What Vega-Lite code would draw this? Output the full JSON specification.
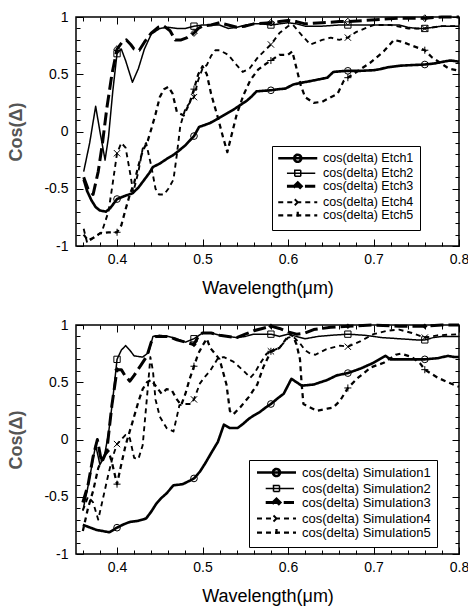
{
"$schema": "https://vega.github.io/schema/vega-lite/v6.json",
"padding": {"left": 7, "top": 9, "right": 0, "bottom": 5},
"background": "white",
"spacing": 19,
"config": {
 "font": "Liberation Sans",
 "view": {"stroke": "black", "strokeWidth": 1.5},
 "axis": {"domain": false, "grid": false, "tickColor": "black", "tickWidth": 1, "labelColor": "black", "labelFont": "Liberation Sans", "labelFontSize": 14, "titleFont": "Liberation Sans", "titleColor": "black", "labelOverlap": false, "labelFlush": false}
},
"datasets": {
"etch": [
{"s":"Etch1","x":0.361,"y":-0.42},{"s":"Etch1","x":0.365,"y":-0.52},{"s":"Etch1","x":0.37,"y":-0.6},{"s":"Etch1","x":0.375,"y":-0.66},{"s":"Etch1","x":0.38,"y":-0.69},{"s":"Etch1","x":0.387,"y":-0.7},{"s":"Etch1","x":0.392,"y":-0.67},{"s":"Etch1","x":0.4,"y":-0.59},{"s":"Etch1","x":0.41,"y":-0.56},{"s":"Etch1","x":0.418,"y":-0.54},{"s":"Etch1","x":0.425,"y":-0.49},{"s":"Etch1","x":0.432,"y":-0.42},{"s":"Etch1","x":0.438,"y":-0.36},{"s":"Etch1","x":0.442,"y":-0.31},{"s":"Etch1","x":0.45,"y":-0.28},{"s":"Etch1","x":0.458,"y":-0.24},{"s":"Etch1","x":0.465,"y":-0.21},{"s":"Etch1","x":0.472,"y":-0.17},{"s":"Etch1","x":0.48,"y":-0.12},{"s":"Etch1","x":0.485,"y":-0.08},{"s":"Etch1","x":0.49,"y":-0.04},{"s":"Etch1","x":0.496,"y":0.04},{"s":"Etch1","x":0.502,"y":0.055},{"s":"Etch1","x":0.509,"y":0.075},{"s":"Etch1","x":0.515,"y":0.1},{"s":"Etch1","x":0.522,"y":0.13},{"s":"Etch1","x":0.53,"y":0.165},{"s":"Etch1","x":0.536,"y":0.19},{"s":"Etch1","x":0.545,"y":0.235},{"s":"Etch1","x":0.552,"y":0.27},{"s":"Etch1","x":0.558,"y":0.31},{"s":"Etch1","x":0.563,"y":0.35},{"s":"Etch1","x":0.57,"y":0.355},{"s":"Etch1","x":0.58,"y":0.36},{"s":"Etch1","x":0.59,"y":0.37},{"s":"Etch1","x":0.597,"y":0.375},{"s":"Etch1","x":0.606,"y":0.41},{"s":"Etch1","x":0.615,"y":0.425},{"s":"Etch1","x":0.626,"y":0.44},{"s":"Etch1","x":0.636,"y":0.455},{"s":"Etch1","x":0.646,"y":0.47},{"s":"Etch1","x":0.653,"y":0.52},{"s":"Etch1","x":0.66,"y":0.525},{"s":"Etch1","x":0.67,"y":0.53},{"s":"Etch1","x":0.685,"y":0.53},{"s":"Etch1","x":0.7,"y":0.535},{"s":"Etch1","x":0.708,"y":0.545},{"s":"Etch1","x":0.716,"y":0.56},{"s":"Etch1","x":0.732,"y":0.575},{"s":"Etch1","x":0.745,"y":0.58},{"s":"Etch1","x":0.76,"y":0.585},{"s":"Etch1","x":0.772,"y":0.595},{"s":"Etch1","x":0.782,"y":0.61},{"s":"Etch1","x":0.79,"y":0.62},{"s":"Etch1","x":0.8,"y":0.61},
{"s":"Etch2","x":0.361,"y":-0.35},{"s":"Etch2","x":0.368,"y":-0.1},{"s":"Etch2","x":0.375,"y":0.22},{"s":"Etch2","x":0.38,"y":0.0},{"s":"Etch2","x":0.386,"y":-0.25},{"s":"Etch2","x":0.39,"y":-0.05},{"s":"Etch2","x":0.395,"y":0.35},{"s":"Etch2","x":0.4,"y":0.68},{"s":"Etch2","x":0.405,"y":0.72},{"s":"Etch2","x":0.41,"y":0.62},{"s":"Etch2","x":0.418,"y":0.43},{"s":"Etch2","x":0.425,"y":0.55},{"s":"Etch2","x":0.432,"y":0.72},{"s":"Etch2","x":0.44,"y":0.85},{"s":"Etch2","x":0.45,"y":0.9},{"s":"Etch2","x":0.46,"y":0.91},{"s":"Etch2","x":0.47,"y":0.9},{"s":"Etch2","x":0.48,"y":0.9},{"s":"Etch2","x":0.49,"y":0.92},{"s":"Etch2","x":0.5,"y":0.93},{"s":"Etch2","x":0.51,"y":0.93},{"s":"Etch2","x":0.52,"y":0.93},{"s":"Etch2","x":0.53,"y":0.9},{"s":"Etch2","x":0.54,"y":0.91},{"s":"Etch2","x":0.55,"y":0.93},{"s":"Etch2","x":0.56,"y":0.94},{"s":"Etch2","x":0.57,"y":0.94},{"s":"Etch2","x":0.58,"y":0.93},{"s":"Etch2","x":0.59,"y":0.94},{"s":"Etch2","x":0.6,"y":0.95},{"s":"Etch2","x":0.61,"y":0.94},{"s":"Etch2","x":0.62,"y":0.92},{"s":"Etch2","x":0.64,"y":0.92},{"s":"Etch2","x":0.66,"y":0.93},{"s":"Etch2","x":0.67,"y":0.93},{"s":"Etch2","x":0.69,"y":0.93},{"s":"Etch2","x":0.71,"y":0.93},{"s":"Etch2","x":0.73,"y":0.93},{"s":"Etch2","x":0.74,"y":0.91},{"s":"Etch2","x":0.75,"y":0.9},{"s":"Etch2","x":0.76,"y":0.9},{"s":"Etch2","x":0.77,"y":0.91},{"s":"Etch2","x":0.78,"y":0.92},{"s":"Etch2","x":0.8,"y":0.92},
{"s":"Etch3","x":0.361,"y":-0.4},{"s":"Etch3","x":0.366,"y":-0.5},{"s":"Etch3","x":0.372,"y":-0.55},{"s":"Etch3","x":0.378,"y":-0.35},{"s":"Etch3","x":0.383,"y":-0.1},{"s":"Etch3","x":0.388,"y":0.2},{"s":"Etch3","x":0.394,"y":0.5},{"s":"Etch3","x":0.4,"y":0.72},{"s":"Etch3","x":0.406,"y":0.78},{"s":"Etch3","x":0.411,"y":0.8},{"s":"Etch3","x":0.416,"y":0.76},{"s":"Etch3","x":0.42,"y":0.72},{"s":"Etch3","x":0.426,"y":0.71},{"s":"Etch3","x":0.432,"y":0.78},{"s":"Etch3","x":0.44,"y":0.86},{"s":"Etch3","x":0.448,"y":0.91},{"s":"Etch3","x":0.455,"y":0.92},{"s":"Etch3","x":0.462,"y":0.88},{"s":"Etch3","x":0.468,"y":0.8},{"s":"Etch3","x":0.475,"y":0.8},{"s":"Etch3","x":0.482,"y":0.82},{"s":"Etch3","x":0.49,"y":0.86},{"s":"Etch3","x":0.495,"y":0.9},{"s":"Etch3","x":0.5,"y":0.92},{"s":"Etch3","x":0.51,"y":0.93},{"s":"Etch3","x":0.52,"y":0.95},{"s":"Etch3","x":0.53,"y":0.93},{"s":"Etch3","x":0.54,"y":0.91},{"s":"Etch3","x":0.55,"y":0.92},{"s":"Etch3","x":0.56,"y":0.94},{"s":"Etch3","x":0.58,"y":0.95},{"s":"Etch3","x":0.59,"y":0.96},{"s":"Etch3","x":0.6,"y":0.97},{"s":"Etch3","x":0.61,"y":0.96},{"s":"Etch3","x":0.62,"y":0.94},{"s":"Etch3","x":0.64,"y":0.95},{"s":"Etch3","x":0.66,"y":0.96},{"s":"Etch3","x":0.67,"y":0.96},{"s":"Etch3","x":0.69,"y":0.97},{"s":"Etch3","x":0.71,"y":0.98},{"s":"Etch3","x":0.73,"y":0.99},{"s":"Etch3","x":0.76,"y":0.99},{"s":"Etch3","x":0.78,"y":1.0},{"s":"Etch3","x":0.8,"y":1.0},
{"s":"Etch4","x":0.361,"y":-0.85},{"s":"Etch4","x":0.365,"y":-0.97},{"s":"Etch4","x":0.372,"y":-0.93},{"s":"Etch4","x":0.382,"y":-0.88},{"s":"Etch4","x":0.39,"y":-0.7},{"s":"Etch4","x":0.395,"y":-0.45},{"s":"Etch4","x":0.4,"y":-0.19},{"s":"Etch4","x":0.405,"y":-0.1},{"s":"Etch4","x":0.41,"y":-0.14},{"s":"Etch4","x":0.415,"y":-0.35},{"s":"Etch4","x":0.419,"y":-0.53},{"s":"Etch4","x":0.425,"y":-0.35},{"s":"Etch4","x":0.43,"y":-0.15},{"s":"Etch4","x":0.434,"y":-0.1},{"s":"Etch4","x":0.44,"y":-0.3},{"s":"Etch4","x":0.445,"y":-0.5},{"s":"Etch4","x":0.449,"y":-0.55},{"s":"Etch4","x":0.455,"y":-0.55},{"s":"Etch4","x":0.46,"y":-0.5},{"s":"Etch4","x":0.466,"y":-0.42},{"s":"Etch4","x":0.47,"y":-0.2},{"s":"Etch4","x":0.474,"y":0.05},{"s":"Etch4","x":0.48,"y":0.2},{"s":"Etch4","x":0.49,"y":0.3},{"s":"Etch4","x":0.495,"y":0.45},{"s":"Etch4","x":0.5,"y":0.55},{"s":"Etch4","x":0.505,"y":0.58},{"s":"Etch4","x":0.51,"y":0.66},{"s":"Etch4","x":0.515,"y":0.71},{"s":"Etch4","x":0.52,"y":0.71},{"s":"Etch4","x":0.53,"y":0.67},{"s":"Etch4","x":0.54,"y":0.58},{"s":"Etch4","x":0.547,"y":0.52},{"s":"Etch4","x":0.555,"y":0.55},{"s":"Etch4","x":0.565,"y":0.65},{"s":"Etch4","x":0.58,"y":0.76},{"s":"Etch4","x":0.59,"y":0.86},{"s":"Etch4","x":0.6,"y":0.92},{"s":"Etch4","x":0.606,"y":0.93},{"s":"Etch4","x":0.615,"y":0.85},{"s":"Etch4","x":0.626,"y":0.76},{"s":"Etch4","x":0.64,"y":0.8},{"s":"Etch4","x":0.65,"y":0.82},{"s":"Etch4","x":0.66,"y":0.8},{"s":"Etch4","x":0.67,"y":0.82},{"s":"Etch4","x":0.68,"y":0.87},{"s":"Etch4","x":0.69,"y":0.9},{"s":"Etch4","x":0.7,"y":0.93},{"s":"Etch4","x":0.72,"y":0.93},{"s":"Etch4","x":0.74,"y":0.9},{"s":"Etch4","x":0.76,"y":0.9},{"s":"Etch4","x":0.78,"y":0.92},{"s":"Etch4","x":0.8,"y":0.92},
{"s":"Etch5","x":0.361,"y":-0.9},{"s":"Etch5","x":0.366,"y":-0.95},{"s":"Etch5","x":0.372,"y":-0.93},{"s":"Etch5","x":0.38,"y":-0.89},{"s":"Etch5","x":0.39,"y":-0.88},{"s":"Etch5","x":0.4,"y":-0.88},{"s":"Etch5","x":0.405,"y":-0.82},{"s":"Etch5","x":0.41,"y":-0.68},{"s":"Etch5","x":0.415,"y":-0.55},{"s":"Etch5","x":0.42,"y":-0.45},{"s":"Etch5","x":0.425,"y":-0.3},{"s":"Etch5","x":0.43,"y":-0.17},{"s":"Etch5","x":0.436,"y":-0.08},{"s":"Etch5","x":0.44,"y":0.02},{"s":"Etch5","x":0.445,"y":0.15},{"s":"Etch5","x":0.45,"y":0.3},{"s":"Etch5","x":0.455,"y":0.37},{"s":"Etch5","x":0.46,"y":0.39},{"s":"Etch5","x":0.465,"y":0.33},{"s":"Etch5","x":0.47,"y":0.17},{"s":"Etch5","x":0.478,"y":0.14},{"s":"Etch5","x":0.485,"y":0.25},{"s":"Etch5","x":0.49,"y":0.37},{"s":"Etch5","x":0.495,"y":0.5},{"s":"Etch5","x":0.5,"y":0.57},{"s":"Etch5","x":0.505,"y":0.5},{"s":"Etch5","x":0.51,"y":0.33},{"s":"Etch5","x":0.518,"y":0.12},{"s":"Etch5","x":0.524,"y":-0.05},{"s":"Etch5","x":0.529,"y":-0.18},{"s":"Etch5","x":0.535,"y":0.0},{"s":"Etch5","x":0.54,"y":0.15},{"s":"Etch5","x":0.548,"y":0.32},{"s":"Etch5","x":0.556,"y":0.45},{"s":"Etch5","x":0.565,"y":0.54},{"s":"Etch5","x":0.572,"y":0.58},{"s":"Etch5","x":0.58,"y":0.62},{"s":"Etch5","x":0.59,"y":0.67},{"s":"Etch5","x":0.6,"y":0.67},{"s":"Etch5","x":0.605,"y":0.7},{"s":"Etch5","x":0.61,"y":0.55},{"s":"Etch5","x":0.615,"y":0.4},{"s":"Etch5","x":0.62,"y":0.3},{"s":"Etch5","x":0.63,"y":0.25},{"s":"Etch5","x":0.64,"y":0.26},{"s":"Etch5","x":0.65,"y":0.3},{"s":"Etch5","x":0.658,"y":0.33},{"s":"Etch5","x":0.665,"y":0.44},{"s":"Etch5","x":0.67,"y":0.47},{"s":"Etch5","x":0.68,"y":0.52},{"s":"Etch5","x":0.696,"y":0.6},{"s":"Etch5","x":0.712,"y":0.7},{"s":"Etch5","x":0.724,"y":0.8},{"s":"Etch5","x":0.735,"y":0.78},{"s":"Etch5","x":0.745,"y":0.75},{"s":"Etch5","x":0.76,"y":0.71},{"s":"Etch5","x":0.768,"y":0.65},{"s":"Etch5","x":0.778,"y":0.6},{"s":"Etch5","x":0.788,"y":0.55},{"s":"Etch5","x":0.8,"y":0.53}
],
"etchM": [
{"s":"Etch1","x":0.4,"y":-0.59},{"s":"Etch1","x":0.49,"y":-0.04},{"s":"Etch1","x":0.58,"y":0.36},{"s":"Etch1","x":0.67,"y":0.53},{"s":"Etch1","x":0.76,"y":0.585},
{"s":"Etch2","x":0.4,"y":0.68},{"s":"Etch2","x":0.49,"y":0.92},{"s":"Etch2","x":0.58,"y":0.93},{"s":"Etch2","x":0.67,"y":0.93},{"s":"Etch2","x":0.76,"y":0.9},
{"s":"Etch3","x":0.4,"y":0.72},{"s":"Etch3","x":0.49,"y":0.86},{"s":"Etch3","x":0.58,"y":0.95},{"s":"Etch3","x":0.67,"y":0.96},{"s":"Etch3","x":0.76,"y":0.99},
{"s":"Etch4","x":0.4,"y":-0.19},{"s":"Etch4","x":0.49,"y":0.3},{"s":"Etch4","x":0.58,"y":0.76},{"s":"Etch4","x":0.67,"y":0.82},{"s":"Etch4","x":0.76,"y":0.9},
{"s":"Etch5","x":0.4,"y":-0.88},{"s":"Etch5","x":0.49,"y":0.37},{"s":"Etch5","x":0.58,"y":0.62},{"s":"Etch5","x":0.67,"y":0.47},{"s":"Etch5","x":0.76,"y":0.71}
],
"sim": [
{"s":"Simulation1","x":0.36,"y":-0.745},{"s":"Simulation1","x":0.376,"y":-0.79},{"s":"Simulation1","x":0.391,"y":-0.81},{"s":"Simulation1","x":0.4,"y":-0.77},{"s":"Simulation1","x":0.408,"y":-0.74},{"s":"Simulation1","x":0.415,"y":-0.72},{"s":"Simulation1","x":0.425,"y":-0.71},{"s":"Simulation1","x":0.434,"y":-0.69},{"s":"Simulation1","x":0.44,"y":-0.63},{"s":"Simulation1","x":0.446,"y":-0.56},{"s":"Simulation1","x":0.452,"y":-0.51},{"s":"Simulation1","x":0.458,"y":-0.47},{"s":"Simulation1","x":0.466,"y":-0.4},{"s":"Simulation1","x":0.472,"y":-0.395},{"s":"Simulation1","x":0.477,"y":-0.39},{"s":"Simulation1","x":0.485,"y":-0.36},{"s":"Simulation1","x":0.49,"y":-0.34},{"s":"Simulation1","x":0.497,"y":-0.28},{"s":"Simulation1","x":0.503,"y":-0.21},{"s":"Simulation1","x":0.51,"y":-0.12},{"s":"Simulation1","x":0.518,"y":-0.02},{"s":"Simulation1","x":0.525,"y":0.13},{"s":"Simulation1","x":0.532,"y":0.1},{"s":"Simulation1","x":0.541,"y":0.1},{"s":"Simulation1","x":0.548,"y":0.14},{"s":"Simulation1","x":0.554,"y":0.18},{"s":"Simulation1","x":0.56,"y":0.21},{"s":"Simulation1","x":0.567,"y":0.24},{"s":"Simulation1","x":0.574,"y":0.28},{"s":"Simulation1","x":0.58,"y":0.31},{"s":"Simulation1","x":0.588,"y":0.36},{"s":"Simulation1","x":0.595,"y":0.4},{"s":"Simulation1","x":0.604,"y":0.53},{"s":"Simulation1","x":0.61,"y":0.5},{"s":"Simulation1","x":0.616,"y":0.47},{"s":"Simulation1","x":0.63,"y":0.48},{"s":"Simulation1","x":0.646,"y":0.52},{"s":"Simulation1","x":0.657,"y":0.56},{"s":"Simulation1","x":0.67,"y":0.58},{"s":"Simulation1","x":0.685,"y":0.62},{"s":"Simulation1","x":0.7,"y":0.67},{"s":"Simulation1","x":0.714,"y":0.73},{"s":"Simulation1","x":0.72,"y":0.7},{"s":"Simulation1","x":0.73,"y":0.7},{"s":"Simulation1","x":0.745,"y":0.7},{"s":"Simulation1","x":0.76,"y":0.7},{"s":"Simulation1","x":0.775,"y":0.71},{"s":"Simulation1","x":0.787,"y":0.73},{"s":"Simulation1","x":0.795,"y":0.72},{"s":"Simulation1","x":0.8,"y":0.72},
{"s":"Simulation2","x":0.36,"y":-0.62},{"s":"Simulation2","x":0.365,"y":-0.45},{"s":"Simulation2","x":0.37,"y":-0.25},{"s":"Simulation2","x":0.375,"y":-0.05},{"s":"Simulation2","x":0.38,"y":-0.22},{"s":"Simulation2","x":0.385,"y":-0.15},{"s":"Simulation2","x":0.39,"y":0.05},{"s":"Simulation2","x":0.395,"y":0.35},{"s":"Simulation2","x":0.4,"y":0.7},{"s":"Simulation2","x":0.405,"y":0.78},{"s":"Simulation2","x":0.41,"y":0.82},{"s":"Simulation2","x":0.415,"y":0.78},{"s":"Simulation2","x":0.42,"y":0.73},{"s":"Simulation2","x":0.43,"y":0.72},{"s":"Simulation2","x":0.437,"y":0.76},{"s":"Simulation2","x":0.442,"y":0.9},{"s":"Simulation2","x":0.45,"y":0.91},{"s":"Simulation2","x":0.46,"y":0.9},{"s":"Simulation2","x":0.47,"y":0.88},{"s":"Simulation2","x":0.48,"y":0.85},{"s":"Simulation2","x":0.49,"y":0.88},{"s":"Simulation2","x":0.5,"y":0.93},{"s":"Simulation2","x":0.51,"y":0.93},{"s":"Simulation2","x":0.52,"y":0.91},{"s":"Simulation2","x":0.53,"y":0.9},{"s":"Simulation2","x":0.54,"y":0.89},{"s":"Simulation2","x":0.55,"y":0.9},{"s":"Simulation2","x":0.56,"y":0.92},{"s":"Simulation2","x":0.58,"y":0.92},{"s":"Simulation2","x":0.59,"y":0.9},{"s":"Simulation2","x":0.6,"y":0.92},{"s":"Simulation2","x":0.61,"y":0.9},{"s":"Simulation2","x":0.62,"y":0.88},{"s":"Simulation2","x":0.635,"y":0.9},{"s":"Simulation2","x":0.65,"y":0.91},{"s":"Simulation2","x":0.67,"y":0.92},{"s":"Simulation2","x":0.69,"y":0.91},{"s":"Simulation2","x":0.71,"y":0.89},{"s":"Simulation2","x":0.73,"y":0.88},{"s":"Simulation2","x":0.75,"y":0.87},{"s":"Simulation2","x":0.76,"y":0.87},{"s":"Simulation2","x":0.77,"y":0.89},{"s":"Simulation2","x":0.78,"y":0.9},{"s":"Simulation2","x":0.8,"y":0.9},
{"s":"Simulation3","x":0.36,"y":-0.55},{"s":"Simulation3","x":0.366,"y":-0.4},{"s":"Simulation3","x":0.372,"y":-0.15},{"s":"Simulation3","x":0.377,"y":0.0},{"s":"Simulation3","x":0.382,"y":-0.2},{"s":"Simulation3","x":0.388,"y":-0.1},{"s":"Simulation3","x":0.394,"y":0.3},{"s":"Simulation3","x":0.4,"y":0.61},{"s":"Simulation3","x":0.405,"y":0.61},{"s":"Simulation3","x":0.41,"y":0.55},{"s":"Simulation3","x":0.415,"y":0.51},{"s":"Simulation3","x":0.42,"y":0.56},{"s":"Simulation3","x":0.428,"y":0.65},{"s":"Simulation3","x":0.435,"y":0.73},{"s":"Simulation3","x":0.44,"y":0.85},{"s":"Simulation3","x":0.445,"y":0.9},{"s":"Simulation3","x":0.46,"y":0.9},{"s":"Simulation3","x":0.47,"y":0.87},{"s":"Simulation3","x":0.48,"y":0.85},{"s":"Simulation3","x":0.49,"y":0.83},{"s":"Simulation3","x":0.495,"y":0.9},{"s":"Simulation3","x":0.5,"y":0.93},{"s":"Simulation3","x":0.51,"y":0.93},{"s":"Simulation3","x":0.52,"y":0.91},{"s":"Simulation3","x":0.53,"y":0.9},{"s":"Simulation3","x":0.54,"y":0.89},{"s":"Simulation3","x":0.55,"y":0.92},{"s":"Simulation3","x":0.56,"y":0.95},{"s":"Simulation3","x":0.57,"y":0.97},{"s":"Simulation3","x":0.58,"y":0.99},{"s":"Simulation3","x":0.59,"y":0.97},{"s":"Simulation3","x":0.6,"y":0.94},{"s":"Simulation3","x":0.61,"y":0.92},{"s":"Simulation3","x":0.62,"y":0.93},{"s":"Simulation3","x":0.63,"y":0.96},{"s":"Simulation3","x":0.65,"y":0.98},{"s":"Simulation3","x":0.67,"y":0.99},{"s":"Simulation3","x":0.7,"y":1.0},{"s":"Simulation3","x":0.73,"y":0.99},{"s":"Simulation3","x":0.76,"y":0.99},{"s":"Simulation3","x":0.78,"y":1.0},{"s":"Simulation3","x":0.8,"y":1.0},
{"s":"Simulation4","x":0.36,"y":-0.62},{"s":"Simulation4","x":0.366,"y":-0.5},{"s":"Simulation4","x":0.372,"y":-0.55},{"s":"Simulation4","x":0.378,"y":-0.7},{"s":"Simulation4","x":0.384,"y":-0.5},{"s":"Simulation4","x":0.39,"y":-0.3},{"s":"Simulation4","x":0.395,"y":-0.15},{"s":"Simulation4","x":0.4,"y":-0.04},{"s":"Simulation4","x":0.405,"y":0.0},{"s":"Simulation4","x":0.41,"y":0.04},{"s":"Simulation4","x":0.415,"y":0.01},{"s":"Simulation4","x":0.42,"y":-0.16},{"s":"Simulation4","x":0.425,"y":-0.17},{"s":"Simulation4","x":0.43,"y":-0.05},{"s":"Simulation4","x":0.433,"y":0.2},{"s":"Simulation4","x":0.436,"y":0.45},{"s":"Simulation4","x":0.439,"y":0.72},{"s":"Simulation4","x":0.442,"y":0.6},{"s":"Simulation4","x":0.445,"y":0.35},{"s":"Simulation4","x":0.45,"y":0.2},{"s":"Simulation4","x":0.458,"y":0.1},{"s":"Simulation4","x":0.466,"y":0.07},{"s":"Simulation4","x":0.47,"y":0.2},{"s":"Simulation4","x":0.473,"y":0.3},{"s":"Simulation4","x":0.48,"y":0.31},{"s":"Simulation4","x":0.486,"y":0.31},{"s":"Simulation4","x":0.49,"y":0.35},{"s":"Simulation4","x":0.497,"y":0.49},{"s":"Simulation4","x":0.503,"y":0.55},{"s":"Simulation4","x":0.509,"y":0.6},{"s":"Simulation4","x":0.518,"y":0.71},{"s":"Simulation4","x":0.525,"y":0.72},{"s":"Simulation4","x":0.536,"y":0.68},{"s":"Simulation4","x":0.548,"y":0.6},{"s":"Simulation4","x":0.556,"y":0.54},{"s":"Simulation4","x":0.561,"y":0.58},{"s":"Simulation4","x":0.567,"y":0.66},{"s":"Simulation4","x":0.575,"y":0.75},{"s":"Simulation4","x":0.58,"y":0.77},{"s":"Simulation4","x":0.59,"y":0.8},{"s":"Simulation4","x":0.6,"y":0.89},{"s":"Simulation4","x":0.606,"y":0.9},{"s":"Simulation4","x":0.614,"y":0.84},{"s":"Simulation4","x":0.62,"y":0.78},{"s":"Simulation4","x":0.626,"y":0.75},{"s":"Simulation4","x":0.632,"y":0.74},{"s":"Simulation4","x":0.645,"y":0.79},{"s":"Simulation4","x":0.661,"y":0.82},{"s":"Simulation4","x":0.67,"y":0.81},{"s":"Simulation4","x":0.685,"y":0.86},{"s":"Simulation4","x":0.7,"y":0.92},{"s":"Simulation4","x":0.716,"y":0.95},{"s":"Simulation4","x":0.73,"y":0.96},{"s":"Simulation4","x":0.745,"y":0.93},{"s":"Simulation4","x":0.76,"y":0.89},{"s":"Simulation4","x":0.775,"y":0.91},{"s":"Simulation4","x":0.8,"y":0.92},
{"s":"Simulation5","x":0.36,"y":-0.8},{"s":"Simulation5","x":0.366,"y":-0.6},{"s":"Simulation5","x":0.372,"y":-0.45},{"s":"Simulation5","x":0.378,"y":-0.25},{"s":"Simulation5","x":0.384,"y":-0.15},{"s":"Simulation5","x":0.39,"y":-0.1},{"s":"Simulation5","x":0.394,"y":-0.2},{"s":"Simulation5","x":0.4,"y":-0.39},{"s":"Simulation5","x":0.404,"y":-0.25},{"s":"Simulation5","x":0.41,"y":-0.05},{"s":"Simulation5","x":0.418,"y":0.15},{"s":"Simulation5","x":0.425,"y":0.33},{"s":"Simulation5","x":0.43,"y":0.44},{"s":"Simulation5","x":0.435,"y":0.5},{"s":"Simulation5","x":0.44,"y":0.52},{"s":"Simulation5","x":0.447,"y":0.45},{"s":"Simulation5","x":0.452,"y":0.4},{"s":"Simulation5","x":0.458,"y":0.44},{"s":"Simulation5","x":0.464,"y":0.43},{"s":"Simulation5","x":0.47,"y":0.35},{"s":"Simulation5","x":0.475,"y":0.3},{"s":"Simulation5","x":0.48,"y":0.4},{"s":"Simulation5","x":0.485,"y":0.53},{"s":"Simulation5","x":0.49,"y":0.64},{"s":"Simulation5","x":0.495,"y":0.75},{"s":"Simulation5","x":0.5,"y":0.82},{"s":"Simulation5","x":0.505,"y":0.88},{"s":"Simulation5","x":0.509,"y":0.8},{"s":"Simulation5","x":0.52,"y":0.7},{"s":"Simulation5","x":0.528,"y":0.48},{"s":"Simulation5","x":0.532,"y":0.25},{"s":"Simulation5","x":0.536,"y":0.22},{"s":"Simulation5","x":0.544,"y":0.28},{"s":"Simulation5","x":0.554,"y":0.37},{"s":"Simulation5","x":0.564,"y":0.48},{"s":"Simulation5","x":0.571,"y":0.63},{"s":"Simulation5","x":0.58,"y":0.77},{"s":"Simulation5","x":0.59,"y":0.8},{"s":"Simulation5","x":0.602,"y":0.92},{"s":"Simulation5","x":0.606,"y":0.9},{"s":"Simulation5","x":0.61,"y":0.83},{"s":"Simulation5","x":0.614,"y":0.7},{"s":"Simulation5","x":0.616,"y":0.48},{"s":"Simulation5","x":0.618,"y":0.31},{"s":"Simulation5","x":0.626,"y":0.28},{"s":"Simulation5","x":0.634,"y":0.25},{"s":"Simulation5","x":0.646,"y":0.27},{"s":"Simulation5","x":0.653,"y":0.28},{"s":"Simulation5","x":0.661,"y":0.34},{"s":"Simulation5","x":0.67,"y":0.45},{"s":"Simulation5","x":0.682,"y":0.54},{"s":"Simulation5","x":0.697,"y":0.63},{"s":"Simulation5","x":0.712,"y":0.67},{"s":"Simulation5","x":0.726,"y":0.74},{"s":"Simulation5","x":0.732,"y":0.75},{"s":"Simulation5","x":0.745,"y":0.72},{"s":"Simulation5","x":0.755,"y":0.66},{"s":"Simulation5","x":0.76,"y":0.61},{"s":"Simulation5","x":0.775,"y":0.54},{"s":"Simulation5","x":0.787,"y":0.5},{"s":"Simulation5","x":0.8,"y":0.46}
],
"simM": [
{"s":"Simulation1","x":0.4,"y":-0.77},{"s":"Simulation1","x":0.49,"y":-0.34},{"s":"Simulation1","x":0.58,"y":0.31},{"s":"Simulation1","x":0.67,"y":0.58},{"s":"Simulation1","x":0.76,"y":0.7},
{"s":"Simulation2","x":0.4,"y":0.7},{"s":"Simulation2","x":0.49,"y":0.88},{"s":"Simulation2","x":0.58,"y":0.92},{"s":"Simulation2","x":0.67,"y":0.92},{"s":"Simulation2","x":0.76,"y":0.87},
{"s":"Simulation3","x":0.4,"y":0.61},{"s":"Simulation3","x":0.49,"y":0.83},{"s":"Simulation3","x":0.58,"y":0.99},{"s":"Simulation3","x":0.67,"y":0.99},{"s":"Simulation3","x":0.76,"y":0.99},
{"s":"Simulation4","x":0.4,"y":-0.04},{"s":"Simulation4","x":0.49,"y":0.35},{"s":"Simulation4","x":0.58,"y":0.77},{"s":"Simulation4","x":0.67,"y":0.81},{"s":"Simulation4","x":0.76,"y":0.89},
{"s":"Simulation5","x":0.4,"y":-0.39},{"s":"Simulation5","x":0.49,"y":0.64},{"s":"Simulation5","x":0.58,"y":0.77},{"s":"Simulation5","x":0.67,"y":0.45},{"s":"Simulation5","x":0.76,"y":0.61}
]
},
"resolve": {"scale": {"strokeDash": "independent", "shape": "independent", "strokeWidth": "independent"}, "legend": {"strokeDash": "independent", "shape": "independent", "strokeWidth": "independent"}},
"vconcat": [
{
"width": 383, "height": 229,
"resolve": {"axis": {"x": "independent", "y": "independent"}},
"layer": [
{
"data": {"name": "etch"},
"mark": {"type": "line", "color": "black", "strokeJoin": "round"},
"encoding": {
"x": {"field": "x", "type": "quantitative", "scale": {"domain": [0.352, 0.8], "nice": false, "zero": false},
 "axis": {"values": [0.36,0.38,0.4,0.42,0.44,0.46,0.48,0.5,0.52,0.54,0.56,0.58,0.6,0.62,0.64,0.66,0.68,0.7,0.72,0.74,0.76,0.78,0.8],
  "labelExpr": "abs(datum.value*10 - round(datum.value*10)) < 0.000001 ? '' + datum.value : ''",
  "tickSize": {"condition": {"test": "abs(datum.value*10 - round(datum.value*10)) < 0.000001", "value": -7}, "value": -4},
  "labelPadding": 13, "title": "Wavelength(μm)", "titleFontSize": 18, "titleFontWeight": "normal", "titlePadding": 10}},
"y": {"field": "y", "type": "quantitative", "scale": {"domain": [-1, 1], "nice": false},
 "axis": {"values": [-1,-0.9,-0.8,-0.7,-0.6,-0.5,-0.4,-0.3,-0.2,-0.1,0,0.1,0.2,0.3,0.4,0.5,0.6,0.7,0.8,0.9,1],
  "labelExpr": "abs(datum.value*2 - round(datum.value*2)) < 0.000001 ? '' + datum.value : ''",
  "tickSize": {"condition": {"test": "abs(datum.value*2 - round(datum.value*2)) < 0.000001", "value": -7}, "value": -4},
  "labelPadding": 15, "title": "Cos(Δ)", "titleFontSize": 18, "titleFontWeight": "bold", "titleColor": "#555555", "titlePadding": 18}},
"strokeWidth": {"field": "s", "type": "nominal", "scale": {"type": "point", "padding": 0, "domain": ["Etch2","Etch4","Etch5","Etch1","Etch3"], "range": [1.5, 3]}},
"strokeDash": {"field": "s", "type": "nominal", "scale": {"domain": ["Etch2","Etch4","Etch5","Etch1","Etch3"], "range": [[1,0],[5,4],[5,4],[1,0],[13,5]]}}
}
},
{
"data": {"name": "etchM"},
"mark": {"type": "point", "filled": false, "color": "black", "size": 16, "opacity": 0},
"encoding": {
"x": {"field": "x", "type": "quantitative", "axis": {"orient": "top", "values": [0.36,0.38,0.4,0.42,0.44,0.46,0.48,0.5,0.52,0.54,0.56,0.58,0.6,0.62,0.64,0.66,0.68,0.7,0.72,0.74,0.76,0.78,0.8], "labels": false, "title": null,
 "tickSize": {"condition": {"test": "abs(datum.value*10 - round(datum.value*10)) < 0.000001", "value": -7}, "value": -4}}},
"y": {"field": "y", "type": "quantitative", "axis": {"orient": "right", "values": [-1,-0.9,-0.8,-0.7,-0.6,-0.5,-0.4,-0.3,-0.2,-0.1,0,0.1,0.2,0.3,0.4,0.5,0.6,0.7,0.8,0.9,1], "labels": false, "title": null,
 "tickSize": {"condition": {"test": "abs(datum.value*2 - round(datum.value*2)) < 0.000001", "value": -7}, "value": -4}}},
"strokeWidth": {"field": "s", "type": "nominal"},
"strokeDash": {"field": "s", "type": "nominal"},
"shape": {"field": "s", "type": "nominal", "scale": {"domain": ["Etch2","Etch4","Etch5","Etch1","Etch3"],
  "range": ["M-5.4,0L8.75,0M-1.5,-1.5L1.5,-1.5L1.5,1.5L-1.5,1.5Z", "M-9.75,0L9.75,0M-1.5,-1.5L1.5,1.5M-1.5,1.5L1.5,-1.5", "M-9.75,0L9.75,0M0,-1.75L0,1.75", "M-9.75,0L9.75,0M-1.75,0A1.75,1.75,0,1,0,1.75,0A1.75,1.75,0,1,0,-1.75,0", "M-5.4,0L8.75,0M-1.75,0L0,-1.75L1.75,0L0,1.75Z"]},
 "legend": {"orient": "none", "legendX": 196, "legendY": 129, "title": null, "values": ["Etch1","Etch2","Etch3","Etch4","Etch5"],
  "labelExpr": "'cos(delta) ' + datum.label", "labelFont": "Liberation Sans", "labelFontSize": 12.5, "labelColor": "black",
  "symbolSize": 16, "symbolOpacity": 1, "symbolStrokeColor": "black", "symbolFillColor": "transparent", "symbolOffset": 13.5, "labelOffset": 19, "padding": 6, "rowPadding": -6,
  "strokeColor": "black", "fillColor": "white"}}
}
},
{"data": {"name": "etchM"}, "transform": [{"filter": "datum.s == 'Etch1'"}], "mark": {"type": "point", "shape": "circle", "filled": false, "color": "black", "strokeWidth": 1, "size": 45, "opacity": 1},
 "encoding": {"x": {"field": "x", "type": "quantitative", "axis": null}, "y": {"field": "y", "type": "quantitative", "axis": null}}},
{"data": {"name": "etchM"}, "transform": [{"filter": "datum.s == 'Etch2'"}], "mark": {"type": "point", "shape": "square", "filled": false, "color": "black", "strokeWidth": 1, "size": 40, "opacity": 1},
 "encoding": {"x": {"field": "x", "type": "quantitative", "axis": null}, "y": {"field": "y", "type": "quantitative", "axis": null}}},
{"data": {"name": "etchM"}, "transform": [{"filter": "datum.s == 'Etch3'"}], "mark": {"type": "point", "shape": "diamond", "filled": false, "color": "black", "strokeWidth": 1, "size": 45, "opacity": 1},
 "encoding": {"x": {"field": "x", "type": "quantitative", "axis": null}, "y": {"field": "y", "type": "quantitative", "axis": null}}},
{"data": {"name": "etchM"}, "transform": [{"filter": "datum.s == 'Etch4'"}], "mark": {"type": "point", "shape": "M-1,-1L1,1M-1,1L1,-1", "filled": false, "color": "black", "strokeWidth": 1, "size": 40, "opacity": 1},
 "encoding": {"x": {"field": "x", "type": "quantitative", "axis": null}, "y": {"field": "y", "type": "quantitative", "axis": null}}},
{"data": {"name": "etchM"}, "transform": [{"filter": "datum.s == 'Etch5'"}], "mark": {"type": "point", "shape": "M-1,0L1,0M0,-1L0,1", "filled": false, "color": "black", "strokeWidth": 1, "size": 50, "opacity": 1},
 "encoding": {"x": {"field": "x", "type": "quantitative", "axis": null}, "y": {"field": "y", "type": "quantitative", "axis": null}}}
]
},
{
"width": 383, "height": 229,
"resolve": {"axis": {"x": "independent", "y": "independent"}},
"layer": [
{
"data": {"name": "sim"},
"mark": {"type": "line", "color": "black", "strokeJoin": "round"},
"encoding": {
"x": {"field": "x", "type": "quantitative", "scale": {"domain": [0.352, 0.8], "nice": false, "zero": false},
 "axis": {"values": [0.36,0.38,0.4,0.42,0.44,0.46,0.48,0.5,0.52,0.54,0.56,0.58,0.6,0.62,0.64,0.66,0.68,0.7,0.72,0.74,0.76,0.78,0.8],
  "labelExpr": "abs(datum.value*10 - round(datum.value*10)) < 0.000001 ? '' + datum.value : ''",
  "tickSize": {"condition": {"test": "abs(datum.value*10 - round(datum.value*10)) < 0.000001", "value": -7}, "value": -4},
  "labelPadding": 13, "title": "Wavelength(μm)", "titleFontSize": 18, "titleFontWeight": "normal", "titlePadding": 10}},
"y": {"field": "y", "type": "quantitative", "scale": {"domain": [-1, 1], "nice": false},
 "axis": {"values": [-1,-0.9,-0.8,-0.7,-0.6,-0.5,-0.4,-0.3,-0.2,-0.1,0,0.1,0.2,0.3,0.4,0.5,0.6,0.7,0.8,0.9,1],
  "labelExpr": "abs(datum.value*2 - round(datum.value*2)) < 0.000001 ? '' + datum.value : ''",
  "tickSize": {"condition": {"test": "abs(datum.value*2 - round(datum.value*2)) < 0.000001", "value": -7}, "value": -4},
  "labelPadding": 15, "title": "Cos(Δ)", "titleFontSize": 18, "titleFontWeight": "bold", "titleColor": "#555555", "titlePadding": 18}},
"strokeWidth": {"field": "s", "type": "nominal", "scale": {"type": "point", "padding": 0, "domain": ["Simulation2","Simulation4","Simulation5","Simulation1","Simulation3"], "range": [1.5, 3]}},
"strokeDash": {"field": "s", "type": "nominal", "scale": {"domain": ["Simulation2","Simulation4","Simulation5","Simulation1","Simulation3"], "range": [[1,0],[5,4],[5,4],[1,0],[13,5]]}}
}
},
{
"data": {"name": "simM"},
"mark": {"type": "point", "filled": false, "color": "black", "size": 16, "opacity": 0},
"encoding": {
"x": {"field": "x", "type": "quantitative", "axis": {"orient": "top", "values": [0.36,0.38,0.4,0.42,0.44,0.46,0.48,0.5,0.52,0.54,0.56,0.58,0.6,0.62,0.64,0.66,0.68,0.7,0.72,0.74,0.76,0.78,0.8], "labels": false, "title": null,
 "tickSize": {"condition": {"test": "abs(datum.value*10 - round(datum.value*10)) < 0.000001", "value": -7}, "value": -4}}},
"y": {"field": "y", "type": "quantitative", "axis": {"orient": "right", "values": [-1,-0.9,-0.8,-0.7,-0.6,-0.5,-0.4,-0.3,-0.2,-0.1,0,0.1,0.2,0.3,0.4,0.5,0.6,0.7,0.8,0.9,1], "labels": false, "title": null,
 "tickSize": {"condition": {"test": "abs(datum.value*2 - round(datum.value*2)) < 0.000001", "value": -7}, "value": -4}}},
"strokeWidth": {"field": "s", "type": "nominal"},
"strokeDash": {"field": "s", "type": "nominal"},
"shape": {"field": "s", "type": "nominal", "scale": {"domain": ["Simulation2","Simulation4","Simulation5","Simulation1","Simulation3"],
  "range": ["M-5.4,0L8.75,0M-1.5,-1.5L1.5,-1.5L1.5,1.5L-1.5,1.5Z", "M-9.75,0L9.75,0M-1.5,-1.5L1.5,1.5M-1.5,1.5L1.5,-1.5", "M-9.75,0L9.75,0M0,-1.75L0,1.75", "M-9.75,0L9.75,0M-1.75,0A1.75,1.75,0,1,0,1.75,0A1.75,1.75,0,1,0,-1.75,0", "M-5.4,0L8.75,0M-1.75,0L0,-1.75L1.75,0L0,1.75Z"]},
 "legend": {"orient": "none", "legendX": 173, "legendY": 135, "title": null, "values": ["Simulation1","Simulation2","Simulation3","Simulation4","Simulation5"],
  "labelExpr": "'cos(delta) ' + datum.label", "labelFont": "Liberation Sans", "labelFontSize": 13, "labelColor": "black",
  "symbolSize": 16, "symbolOpacity": 1, "symbolStrokeColor": "black", "symbolFillColor": "transparent", "symbolOffset": 15, "labelOffset": 19, "padding": 6, "rowPadding": -4.4,
  "strokeColor": "black", "fillColor": "white"}}
}
},
{"data": {"name": "simM"}, "transform": [{"filter": "datum.s == 'Simulation1'"}], "mark": {"type": "point", "shape": "circle", "filled": false, "color": "black", "strokeWidth": 1, "size": 45, "opacity": 1},
 "encoding": {"x": {"field": "x", "type": "quantitative", "axis": null}, "y": {"field": "y", "type": "quantitative", "axis": null}}},
{"data": {"name": "simM"}, "transform": [{"filter": "datum.s == 'Simulation2'"}], "mark": {"type": "point", "shape": "square", "filled": false, "color": "black", "strokeWidth": 1, "size": 40, "opacity": 1},
 "encoding": {"x": {"field": "x", "type": "quantitative", "axis": null}, "y": {"field": "y", "type": "quantitative", "axis": null}}},
{"data": {"name": "simM"}, "transform": [{"filter": "datum.s == 'Simulation3'"}], "mark": {"type": "point", "shape": "diamond", "filled": true, "color": "black", "strokeWidth": 1, "size": 30, "opacity": 1},
 "encoding": {"x": {"field": "x", "type": "quantitative", "axis": null}, "y": {"field": "y", "type": "quantitative", "axis": null}}},
{"data": {"name": "simM"}, "transform": [{"filter": "datum.s == 'Simulation4'"}], "mark": {"type": "point", "shape": "M-1,-1L1,1M-1,1L1,-1", "filled": false, "color": "black", "strokeWidth": 1, "size": 40, "opacity": 1},
 "encoding": {"x": {"field": "x", "type": "quantitative", "axis": null}, "y": {"field": "y", "type": "quantitative", "axis": null}}},
{"data": {"name": "simM"}, "transform": [{"filter": "datum.s == 'Simulation5'"}], "mark": {"type": "point", "shape": "M-1,0L1,0M0,-1L0,1", "filled": false, "color": "black", "strokeWidth": 1, "size": 50, "opacity": 1},
 "encoding": {"x": {"field": "x", "type": "quantitative", "axis": null}, "y": {"field": "y", "type": "quantitative", "axis": null}}}
]
}
]
}
